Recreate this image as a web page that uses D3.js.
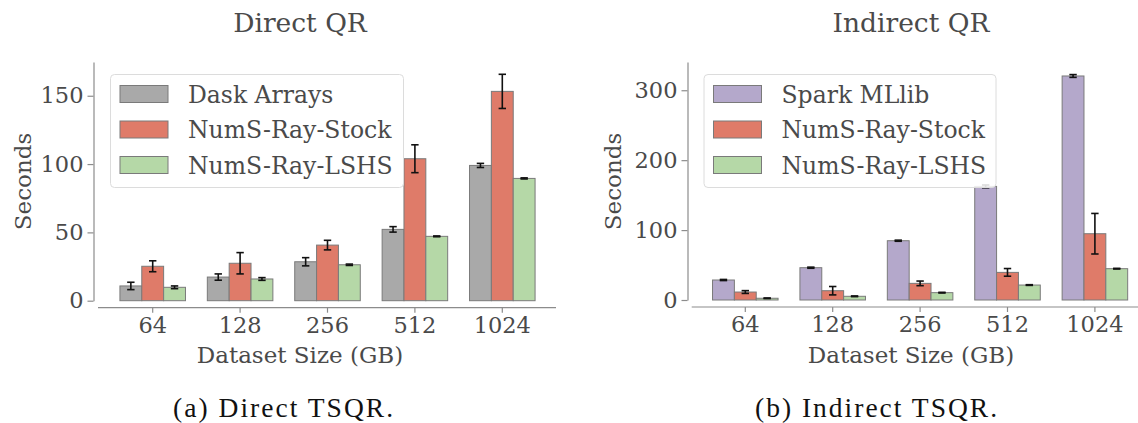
<!DOCTYPE html>
<html>
<head>
<meta charset="utf-8">
<script src="https://cdn.jsdelivr.net/npm/d3@7"></script>
<style>
  body { margin: 0; background: #fff; }
  svg { display: block; }
  text { font-family: "DejaVu Serif", serif; fill: #4a4a4a; }
  .caption { font-family: "Liberation Serif", "Times New Roman", serif; fill: #111; }
</style>
</head>
<body>
<svg width="1138" height="423"></svg>
<script>
// dataset sizes (GB)
const sizes = ["64", "128", "256", "512", "1024"];

// Direct QR
const directSeries = ["Dask Arrays", "NumS-Ray-Stock", "NumS-Ray-LSHS"];
const directMean = [
  [10.8, 17.3, 28.5, 52.2, 99.0],
  [25.2, 27.4, 40.7, 103.9, 153.2],
  [9.8, 15.9, 26.3, 47.1, 89.5]
];
const directErr = [
  [2.7, 2.3, 3.0, 2.0, 1.5],
  [4.0, 7.8, 3.5, 10.2, 12.5],
  [1.0, 1.0, 0.5, 0.3, 0.4]
];
const directTicks = [0, 50, 100, 150];

// Indirect QR
const indirectSeries = ["Spark MLlib", "NumS-Ray-Stock", "NumS-Ray-LSHS"];
const indirectMean = [
  [28.6, 46.2, 84.8, 162.5, 320.4],
  [11.4, 13.3, 23.8, 39.5, 94.8],
  [2.5, 5.3, 10.5, 21.4, 44.8]
];
const indirectErr = [
  [0.8, 0.8, 0.8, 2.0, 2.0],
  [2.0, 6.0, 3.3, 5.5, 29.0],
  [0.4, 0.5, 0.5, 0.5, 0.5]
];
const indirectTicks = [0, 100, 200, 300];

const colorsDirect = ["#a9a9a9", "#df7b69", "#b5d8a7"];
const colorsIndirect = ["#b4a8cb", "#df7b69", "#b5d8a7"];

const svg = d3.select("svg");

function panel(opt) {
  const g = svg.append("g");
  const y = d3.scaleLinear().domain([0, opt.ymax]).range([opt.y0, 62]);
  const x = d3.scaleBand().domain(sizes).range(opt.xr).paddingInner(0.25).paddingOuter(0.125);
  const xs = d3.scaleBand().domain(d3.range(3)).range([0, x.bandwidth()]);

  // bars
  opt.mean.forEach((vals, si) => {
    g.selectAll(null).data(vals).enter().append("rect")
      .attr("x", (d, i) => x(sizes[i]) + xs(si))
      .attr("y", d => y(d))
      .attr("width", xs.bandwidth())
      .attr("height", d => y(0) - y(d))
      .attr("fill", opt.colors[si])
      .attr("stroke", "#7a7a7a")
      .attr("stroke-width", 1);
  });
  // error bars
  opt.mean.forEach((vals, si) => {
    vals.forEach((v, i) => {
      const cx = x(sizes[i]) + xs(si) + xs.bandwidth() / 2;
      const e = opt.err[si][i];
      const eg = g.append("g").attr("stroke", "#111").attr("stroke-width", 1.6);
      eg.append("line").attr("x1", cx).attr("x2", cx).attr("y1", y(v + e)).attr("y2", y(v - e));
      eg.append("line").attr("x1", cx - 3.7).attr("x2", cx + 3.7).attr("y1", y(v + e)).attr("y2", y(v + e));
      eg.append("line").attr("x1", cx - 3.7).attr("x2", cx + 3.7).attr("y1", y(v - e)).attr("y2", y(v - e));
    });
  });

  // y axis
  const yAxis = g.append("g")
    .attr("transform", `translate(${opt.yAxisX},0)`)
    .call(d3.axisLeft(y).tickValues(opt.ticks).tickSize(6).tickPadding(4).tickSizeOuter(0));
  // x axis (offset spine)
  const xAxis = g.append("g")
    .attr("transform", `translate(0,${opt.y0 + 7})`)
    .call(d3.axisBottom(x).tickSize(5).tickPadding(4).tickSizeOuter(0));
  xAxis.select(".domain").attr("d", `M${opt.xSpine[0]},0H${opt.xSpine[1]}`);
  [yAxis, xAxis].forEach(a => {
    a.select(".domain").attr("stroke", "#8c8c8c").attr("stroke-width", 1.2);
    a.selectAll(".tick line").attr("stroke", "#8c8c8c").attr("stroke-width", 1.2);
    a.selectAll(".tick text").attr("font-family", "DejaVu Serif").attr("font-size", 22.5).attr("fill", "#4a4a4a");
  });

  // labels
  g.append("text").attr("x", opt.center).attr("y", 32).attr("text-anchor", "middle")
    .attr("font-size", 26.5).text(opt.title);
  g.append("text").attr("x", opt.center).attr("y", 363).attr("text-anchor", "middle")
    .attr("font-size", 23).text("Dataset Size (GB)");
  g.append("text").attr("transform", `translate(${opt.ylabX},181.5) rotate(-90)`)
    .attr("text-anchor", "middle").attr("dominant-baseline", "central")
    .attr("font-size", 23).text("Seconds");
  g.append("text").attr("class", "caption").attr("x", opt.capX).attr("y", 416.5)
    .attr("text-anchor", "middle").attr("font-size", 27.5)
    .attr("textLength", opt.capW).attr("lengthAdjust", "spacing").text(opt.caption);

  // legend
  const lg = g.append("g").attr("transform", `translate(${opt.legX},74.5)`);
  lg.append("rect").attr("width", opt.legW).attr("height", 113).attr("rx", 4)
    .attr("fill", "#fff").attr("fill-opacity", 0.85).attr("stroke", "#dcdcdc");
  opt.series.forEach((s, i) => {
    const row = lg.append("g").attr("transform", `translate(9.5,${11 + i * 35.5})`);
    row.append("rect").attr("width", 48).attr("height", 17)
      .attr("fill", opt.colors[i]).attr("stroke", "#7a7a7a");
    row.append("text").attr("x", 68).attr("y", 17).attr("font-size", 23.5).text(s);
  });
}

panel({
  title: "Direct QR", caption: "(a) Direct TSQR.",
  series: directSeries, mean: directMean, err: directErr, ticks: directTicks,
  colors: colorsDirect, ymax: 174.7, y0: 300.7, xr: [109, 546],
  yAxisX: 93.5, xSpine: [98, 556], center: 300, ylabX: 22.5, capX: 283, capW: 220,
  legX: 110.5, legW: 293
});

panel({
  title: "Indirect QR", caption: "(b) Indirect TSQR.",
  series: indirectSeries, mean: indirectMean, err: indirectErr, ticks: indirectTicks,
  colors: colorsIndirect, ymax: 340.4, y0: 300, xr: [701.6, 1138.6],
  yAxisX: 687.5, xSpine: [691.7, 1138], center: 911, ylabX: 613.3, capX: 876, capW: 242,
  legX: 704, legW: 292
});
</script>
</body>
</html>
